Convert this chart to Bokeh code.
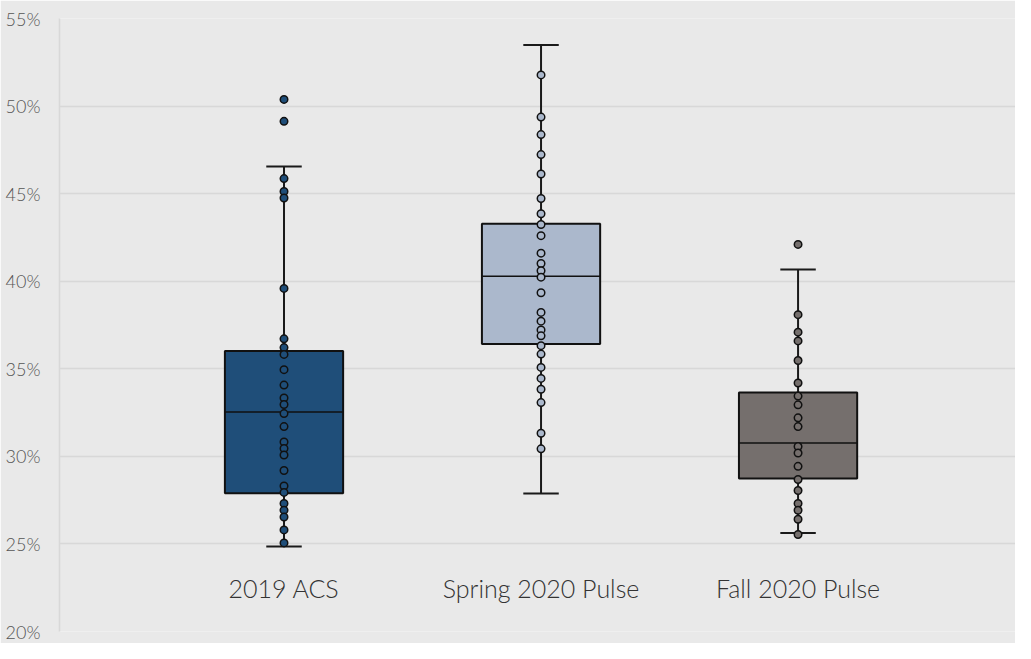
from bokeh.plotting import figure
from bokeh.models import Range1d, FixedTicker, PrintfTickFormatter, ColumnDataSource
from bokeh.core.properties import value
from bokeh.embed import file_html
from bokeh.resources import INLINE

categories = ["2019 ACS", "Spring 2020 Pulse", "Fall 2020 Pulse"]
colors = ["#1f4e79", "#abb8cc", "#756f6d"]
q1 = [27.90, 36.41, 28.74]
median = [32.53, 40.28, 30.76]
q3 = [36.01, 43.28, 33.65]
whisker_low = [24.85, 27.88, 25.62]
whisker_high = [46.55, 53.49, 40.67]

acs_points = [50.38, 49.13, 45.86, 45.12, 44.75, 39.59, 36.71, 36.21, 35.82, 34.95,
              34.07, 33.33, 32.96, 32.44, 31.70, 30.82, 30.45, 30.08, 29.19, 28.31,
              27.94, 27.31, 26.93, 26.54, 25.80, 25.06]
spring_points = [51.78, 49.37, 48.37, 47.23, 46.12, 44.72, 43.85, 43.24, 42.60, 41.60,
                 41.01, 40.60, 40.23, 39.34, 38.22, 37.72, 37.22, 36.88, 36.32, 35.84,
                 35.08, 34.45, 33.83, 33.07, 31.32, 30.43]
fall_points = [42.10, 38.09, 37.09, 36.59, 35.47, 34.19, 33.44, 32.94, 32.20, 31.70,
               30.56, 30.19, 29.43, 28.68, 28.05, 27.31, 26.92, 26.41, 25.54]
y_ticks = [20, 25, 30, 35, 40, 45, 50, 55]

BG = "#e9e9e9"
GRID = "#d8d8d8"
FONT = "Lato Light, Lato"

p = figure(width=1015, height=643, output_backend="svg", toolbar_location=None,
           x_range=Range1d(0.1265, 3.846), y_range=Range1d(20, 55),
           min_border_left=59, min_border_right=0, min_border_top=18, min_border_bottom=12)
p.background_fill_color = BG
p.border_fill_color = BG
p.outline_line_color = None

p.xaxis.visible = False
p.xgrid.visible = False
p.ygrid.grid_line_color = GRID
p.ygrid.grid_line_width = 1.5
p.yaxis.ticker = FixedTicker(ticks=y_ticks)
p.yaxis.formatter = PrintfTickFormatter(format="%d%%")
p.yaxis.axis_line_color = GRID
p.yaxis.axis_line_width = 1.5
p.yaxis.major_tick_line_color = None
p.yaxis.minor_tick_line_color = None
p.yaxis.major_label_standoff = 13
p.yaxis.major_label_text_font = FONT
p.yaxis.major_label_text_font_size = "18px"
p.yaxis.major_label_text_color = "#555555"

xs = [1, 2, 3]
box_w = 0.46
cap_w = 0.138
src = ColumnDataSource(dict(x=xs, q1=q1, med=median, q3=q3, lo=whisker_low, hi=whisker_high,
                            color=colors, cat=categories,
                            cx0=[x - cap_w / 2 for x in xs], cx1=[x + cap_w / 2 for x in xs],
                            bx0=[x - box_w / 2 for x in xs], bx1=[x + box_w / 2 for x in xs],
                            ly=[22.5] * 3))

p.segment(x0="x", x1="x", y0="q3", y1="hi", source=src, line_color="#1a1a1a", line_width=2)
p.segment(x0="x", x1="x", y0="lo", y1="q1", source=src, line_color="#1a1a1a", line_width=2)
p.segment(x0="cx0", x1="cx1", y0="hi", y1="hi", source=src, line_color="#1a1a1a", line_width=2)
p.segment(x0="cx0", x1="cx1", y0="lo", y1="lo", source=src, line_color="#1a1a1a", line_width=2)
p.vbar(x="x", width=box_w, top="q3", bottom="q1", source=src, fill_color="color",
       line_color="#111111", line_width=2)
p.segment(x0="bx0", x1="bx1", y0="med", y1="med", source=src, line_color="#111111", line_width=1.5)

for x, pts, c in zip(xs, [acs_points, spring_points, fall_points], colors):
    p.scatter(x=[x] * len(pts), y=pts, size=7.5, fill_color=c, line_color="#111111", line_width=1.5)

p.text(x="x", y="ly", text="cat", source=src, text_align="center", text_baseline="middle",
       text_font=value(FONT), text_font_size="25px", text_color="#333333")

open("out.html", "w").write(file_html(p, INLINE))
